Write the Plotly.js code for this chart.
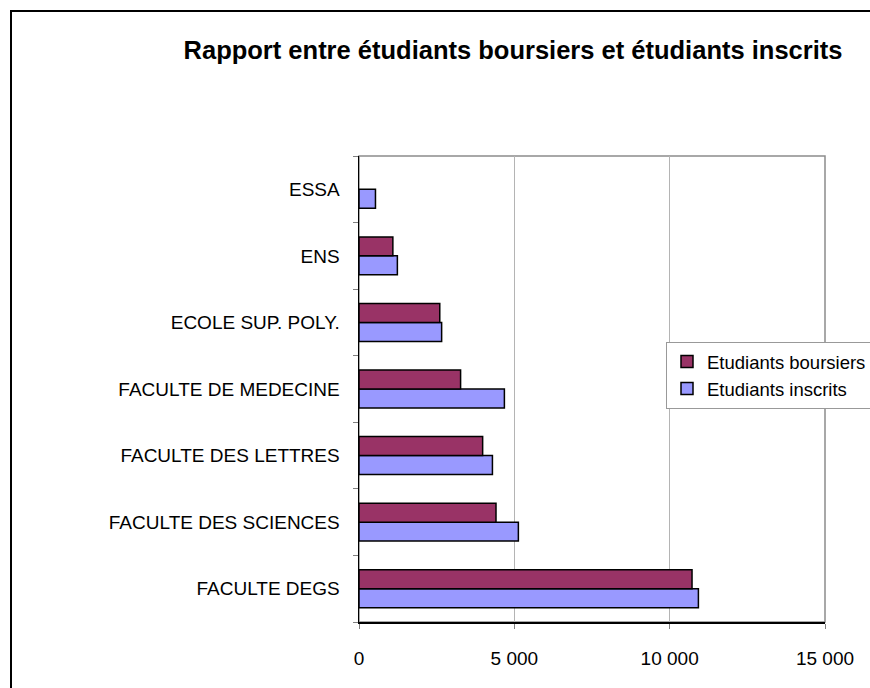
<!DOCTYPE html>
<html>
<head>
<meta charset="utf-8">
<script src="https://cdn.plot.ly/plotly-3.0.1.min.js"></script>
<style>
	body { margin: 0; overflow: hidden; background: #fff; }
	#chart { width: 870px; height: 688px; }
	#frame { position: absolute; left: 10px; top: 10px; width: 900px; height: 720px;
		border: 2px solid #000; pointer-events: none; }
</style>
</head>
<body>
<div id="chart"></div>
<div id="frame"></div>
<script>
// values, bottom category first
var categories = ['FACULTE DEGS', 'FACULTE DES SCIENCES', 'FACULTE DES LETTRES',
	'FACULTE DE MEDECINE', 'ECOLE SUP. POLY.', 'ENS', 'ESSA'];
var boursiers = [10720, 4410, 3980, 3270, 2600, 1090, null];
var inscrits = [10925, 5130, 4295, 4680, 2660, 1235, 530];
var xTicks = [0, 5000, 10000, 15000];

var font = 'Arial, "Liberation Sans", sans-serif';

// inscrits first so that it sits below boursiers inside each group
var traceInscrits = {
	type: 'bar',
	orientation: 'h',
	name: 'Etudiants inscrits',
	y: categories,
	x: inscrits,
	marker: {color: '#9999ff', line: {color: '#000000', width: 1.5}},
	hoverinfo: 'x+name',
};
var traceBoursiers = {
	type: 'bar',
	orientation: 'h',
	name: 'Etudiants boursiers',
	y: categories,
	x: boursiers,
	marker: {color: '#993366', line: {color: '#000000', width: 1.5}},
	hoverinfo: 'x+name',
};

var layout = {
	width: 870,
	height: 688,
	margin: {l: 359, r: 45, t: 156, b: 66, autoexpand: false},
	paper_bgcolor: '#ffffff',
	plot_bgcolor: '#ffffff',
	separators: ', ',
	font: {family: font, size: 19, color: '#000000'},
	barmode: 'group',
	bargap: 0.43,
	bargroupgap: 0,
	title: {
		text: '<b>Rapport entre étudiants boursiers et étudiants inscrits</b>',
		font: {family: font, size: 25.5, color: '#000000'},
		xref: 'container',
		x: 513 / 870,
		xanchor: 'center',
		yref: 'container',
		y: 1 - 50 / 688,
		yanchor: 'middle',
	},
	xaxis: {
		range: [0, 15000],
		tickvals: xTicks,
		tickformat: ',d',
		showgrid: true,
		gridcolor: '#b4b4b4',
		gridwidth: 1,
		zeroline: false,
		showline: true,
		linecolor: '#000000',
		linewidth: 1.5,
		ticks: 'outside',
		ticklen: 5,
		tickcolor: '#808080',
		ticklabelstandoff: 14,
		tickfont: {size: 19},
		fixedrange: true,
	},
	yaxis: {
		type: 'category',
		categoryorder: 'array',
		categoryarray: categories,
		showgrid: false,
		zeroline: false,
		showline: true,
		linecolor: '#000000',
		linewidth: 1.5,
		ticks: 'outside',
		tickson: 'boundaries',
		ticklen: 5,
		tickcolor: '#808080',
		ticklabelstandoff: 14,
		tickfont: {size: 19},
		fixedrange: true,
	},
	showlegend: true,
	legend: {
		x: (666 - 359) / 466,
		xanchor: 'left',
		y: (622 - 342) / 466,
		yanchor: 'top',
		traceorder: 'reversed',
		bgcolor: '#ffffff',
		bordercolor: '#999999',
		borderwidth: 1,
		font: {family: font, size: 18.5, color: '#000000'},
		itemwidth: 30,
	},
	shapes: [
		// gray frame of the plot area (top and right edges)
		{
			type: 'rect', xref: 'x domain', yref: 'y domain',
			x0: 0, x1: 1, y0: 0, y1: 1,
			line: {color: '#8c8c8c', width: 1.5},
			layer: 'below',
		},
	],
};

Plotly.newPlot('chart', [traceInscrits, traceBoursiers], layout, {displayModeBar: false, staticPlot: true});
</script>
</body>
</html>
